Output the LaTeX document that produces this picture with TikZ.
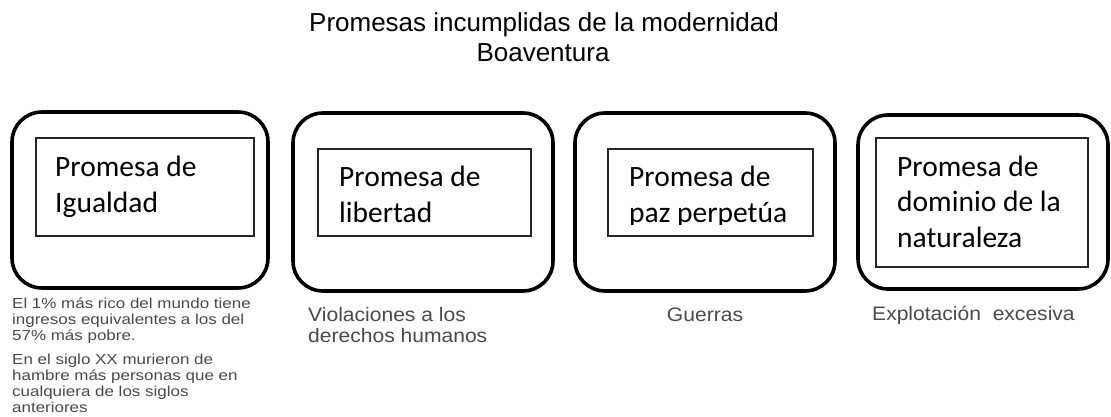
\documentclass[tikz,border=0pt]{standalone}
\usepackage{fontspec}
\setmainfont{Liberation Sans}
\newfontfamily\boxfont{Carlito}
\newfontfamily\capfont[FakeStretch=1.17]{Liberation Sans}
\newfontfamily\capfontb[FakeStretch=1.08]{Liberation Sans}
\definecolor{capgray}{HTML}{4A4A4A}
\begin{document}
\begin{tikzpicture}[x=1pt,y=-1pt,
  outerbox/.style={draw=black,line width=3.6pt,rounded corners=30pt},
  innerbox/.style={draw=black!85,line width=1.1pt},
  boxtext/.style={anchor=base west,inner sep=0pt,font=\boxfont\fontsize{29.5}{35.5}\selectfont,align=left},
  title/.style={inner sep=0pt,font=\fontsize{26}{30}\selectfont,align=center},
  capsmall/.style={anchor=base west,inner sep=0pt,text=capgray,font=\capfont\fontsize{14.5}{16}\selectfont,align=left},
  capbig/.style={anchor=base west,inner sep=0pt,text=capgray,font=\capfontb\fontsize{19.5}{20.5}\selectfont,align=left}]
\useasboundingbox (0,0) rectangle (1111,417);
\fill[white] (0,0) rectangle (1111,417);

% title
\node[title,anchor=base] (t1) at (544,32) {Promesas incumplidas de la modernidad};
\node[title,anchor=base] (t2) at (543,62) {Boaventura};

% outer boxes
\draw[outerbox] (12,112) rectangle (268,288);
\draw[outerbox] (293,113) rectangle (553,291);
\draw[outerbox] (575,113) rectangle (835,291);
\draw[outerbox] (858,115) rectangle (1108,289);

% inner boxes
\draw[innerbox] (36,138) rectangle (254,236);
\draw[innerbox] (318,149) rectangle (531,236);
\draw[innerbox] (608,149) rectangle (813,236);
\draw[innerbox] (876,138) rectangle (1088,267);

% inner texts (base anchor = last line)
\node[boxtext] (p1) at (55,212) {Promesa de\\Igualdad};
\node[boxtext] (p2) at (339,222) {Promesa de\\libertad};
\begin{scope}
  \clip (608,149) rectangle (813,224);
  \node[boxtext] (p3) at (629,222) {Promesa de\\paz perpetúa};
\end{scope}
\node[boxtext] (p4) at (897,247) {Promesa de\\dominio de la\\naturaleza};

% captions
\node[capsmall] (c1) at (12,340) {El 1\% más rico del mundo tiene\\ingresos equivalentes a los del\\57\% más pobre.};
\node[capsmall] (c1b) at (12,412) {En el siglo XX murieron de\\hambre más personas que en\\cualquiera de los siglos\\anteriores};
\node[capbig] (c2) at (308,342) {Violaciones a los\\derechos humanos};
\node[capbig,anchor=base] (c3) at (705,321) {Guerras};
\node[capbig] (c4) at (872,320) {Explotación\ \ excesiva};
\end{tikzpicture}
\end{document}
